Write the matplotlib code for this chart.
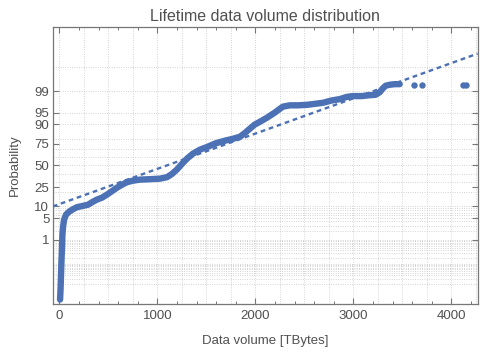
import numpy as np
import matplotlib
matplotlib.use("Agg")
import matplotlib.pyplot as plt
from matplotlib.ticker import FixedLocator, NullLocator
from statistics import NormalDist

# sorted sample: data volume [TB] vs cumulative probability [%]
volume = [7, 12, 17, 22, 28, 31, 38, 48, 68, 99, 140, 180, 231, 293, 344, 384,
          435, 486, 537, 588, 640, 691, 751, 823, 925, 1027, 1098, 1149, 1200,
          1251, 1302, 1363, 1434, 1516, 1598, 1690, 1771, 1842, 1893, 1944,
          1995, 2046, 2117, 2199, 2280, 2352, 2433, 2525, 2607, 2689, 2780,
          2862, 2933, 2994, 3086, 3167, 3228, 3269, 3300, 3330, 3371, 3422, 3473]
prob = [0.00137, 0.0052, 0.032, 0.162, 0.666, 1.53, 2.79, 4.51, 6.2, 7.4, 8.6,
        9.6, 10.2, 11.0, 12.9, 14.3, 15.7, 18.1, 21.1, 24.4, 27.4, 30.1, 31.7,
        32.9, 33.4, 34.0, 35.7, 39.5, 45.0, 52.0, 58.4, 64.4, 68.9, 72.2, 75.7,
        78.1, 79.8, 81.5, 84.5, 87.5, 90.0, 91.4, 93.2, 95.1, 96.7, 97.0, 97.0,
        97.1, 97.3, 97.5, 97.9, 98.1, 98.4, 98.5, 98.5, 98.6, 98.65, 98.9,
        99.2, 99.37, 99.42, 99.45, 99.45]

# last few isolated points
tail_volume = [3621, 3702, 4120, 4151]
tail_prob = [99.42, 99.42, 99.42, 99.42]

# normal fit (dashed line)
fit_mu = 1096
fit_sigma = 907

prob_ticks = [1, 5, 10, 25, 50, 75, 90, 95, 99]
prob_grid = [0.01, 0.02, 0.03, 0.04, 0.05, 0.06, 0.07, 0.08, 0.09,
             0.1, 0.2, 0.3, 0.4, 0.5, 0.6, 0.7, 0.8, 0.9,
             1, 2, 3, 4, 5, 6, 7, 8, 9, 10, 20, 30, 40, 50, 60, 70, 80, 90,
             95, 99, 99.9]
volume_grid = np.arange(0, 4251, 250)

nd = NormalDist()
_inv = np.vectorize(nd.inv_cdf, otypes=[float])
_cdf = np.vectorize(nd.cdf, otypes=[float])


def probit(p):
    p = np.clip(np.asarray(p, dtype=float) / 100.0, 1e-12, 1 - 1e-12)
    return _inv(p)


def unprobit(z):
    return _cdf(np.asarray(z, dtype=float)) * 100.0


plt.rcParams['font.family'] = ['Liberation Sans', 'DejaVu Sans']
blue = '#4c71b4'
txt = '#505050'

fig = plt.figure(figsize=(4.8, 3.53), dpi=100)
ax = fig.add_axes([0.110, 0.139, 0.885, 0.7845])
ax.set_yscale('function', functions=(probit, unprobit))

xmin, xmax = -67, 4268
zlim = 4.33
ax.set_xlim(xmin, xmax)
ax.set_ylim(nd.cdf(-zlim) * 100, nd.cdf(zlim) * 100)

grid_style = dict(color='#c6c6c6', lw=0.6, ls=(0, (1, 1.8)), zorder=0)
for g in prob_grid:
    ax.axhline(g, **grid_style)
for g in volume_grid:
    ax.axvline(g, **grid_style)

ax.plot(volume, prob, '-', color=blue, lw=4.6, solid_capstyle='round',
        solid_joinstyle='round', zorder=3)
ax.plot(tail_volume, tail_prob, 'o', color=blue, ms=4.6, mec='none', zorder=3)

fit_x = np.array([xmin, xmax])
fit_p = np.array([NormalDist(fit_mu, fit_sigma).cdf(v) * 100 for v in fit_x])
ax.plot(fit_x, fit_p, color=blue, lw=1.7, dashes=(2, 1.6), zorder=4)

ax.yaxis.set_major_locator(FixedLocator(prob_ticks))
ax.yaxis.set_minor_locator(NullLocator())
ax.set_yticklabels([str(t) for t in prob_ticks])
ax.set_xticks([0, 1000, 2000, 3000, 4000])
ax.set_xticks(np.arange(0, 4300, 200), minor=True)

ax.tick_params(which='both', direction='in', top=True, right=True,
               colors='#777777', labelcolor=txt, labelsize=9.5)
ax.tick_params(which='major', length=4.5, width=0.8)
ax.tick_params(which='minor', length=2.5, width=0.7)
ax.tick_params(axis='x', pad=4.5)
ax.tick_params(axis='y', pad=2.5)
for s in ax.spines.values():
    s.set_color('#777777')
    s.set_linewidth(0.9)

ax.set_xlabel('Data volume [TBytes]', fontsize=9.5, color=txt, labelpad=9)
ax.set_ylabel('Probability', fontsize=9.5, color=txt, labelpad=10)
ax.set_title('Lifetime data volume distribution', fontsize=11.5, color=txt, pad=4)

fig.savefig('out.png', dpi=100)
